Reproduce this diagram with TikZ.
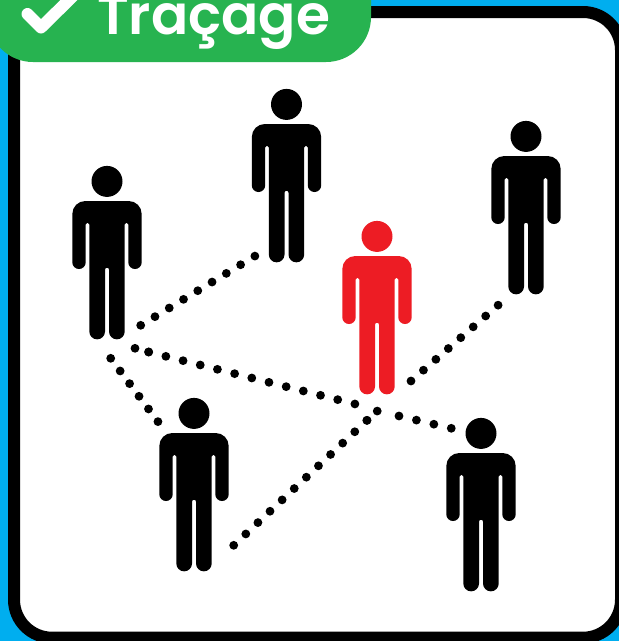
\documentclass[tikz,border=0pt]{standalone}
\usepackage{fontspec}
\setmainfont{Poppins SemiBold}
\usepackage{tikz}
\definecolor{brandblue}{RGB}{0, 174, 239}
\definecolor{brandgreen}{RGB}{39, 179, 80}
\definecolor{brandred}{RGB}{237, 28, 36}

\begin{document}
\begin{tikzpicture}[
        x=1pt, y=-1pt,
        link/.style={line width=8.8pt, line cap=round, dash pattern=on 0pt off #1},
        badgetext/.style={font=\fontsize{55}{55}\selectfont, text=white, anchor=base west, inner sep=0pt},
        person/.pic={
            \fill[pic actions] (0,0.4) circle (15.5);
            \fill[pic actions] (-34.7,33) arc (180:270:13) -- (21.7,20) arc (270:360:13)
                -- (34.7,81.3) arc (0:180:6.7) -- (21.3,43.5) arc (0:-180:1.8)
                -- (17.7,150.5) arc (0:180:7.85) -- (2,88.7) arc (0:-180:2)
                -- (-2,150.5) arc (0:180:7.85) -- (-17.7,43.5) arc (0:-180:1.8)
                -- (-21.3,81.3) arc (0:180:6.7) -- cycle;
        }
    ]
        \useasboundingbox (0,0) rectangle (619,641);
        \fill[brandblue] (0,0) rectangle (619,641);
        \draw[black, fill=white, line width=12pt, rounded corners=38pt] (14,12) rectangle (621,637.7);

        % people
        \pic[black] (top) at (286.5,104) {person};
        \pic[black] (right) at (526,136) {person};
        \pic[black] (left) at (107,181) {person};
        \pic[black] (bottomleft) at (194,413) {person};
        \pic[black] (bottomright) at (481,433) {person};
        \pic[brandred] (sick) at (377,236) {person};

        \coordinate (a1) at (140.7,325.3);
        \coordinate (a2) at (255,256);
        \coordinate (b1) at (135,348.3);
        \coordinate (b2) at (148.7,352);
        \coordinate (b3) at (355,404);
        \coordinate (b4) at (399,416);
        \coordinate (b5) at (451.3,428.3);
        \coordinate (c1) at (110.7,358.3);
        \coordinate (c2) at (158,421.7);
        \coordinate (d1) at (233.7,545.3);
        \coordinate (d2) at (367,420.3);
        \coordinate (d3) at (377.3,411);
        \coordinate (d4) at (411,381);
        \coordinate (d5) at (498.3,305);

        \draw[link=16.69pt] (a1) -- (a2);
        \draw[link=14.1pt] (b1) -- (b2);
        \draw[link=17.72pt] (b2) -- (b3);
        \draw[link=17.9pt] (b4) -- (b5);
        \draw[link=15.8pt] (c1) -- (c2);
        \draw[link=16.6pt] (d1) -- (d2);
        \draw[link=13.8pt] (d2) -- (d3);
        \draw[link=16.5pt] (d4) -- (d5);

        % badge
        \fill[brandgreen, rounded corners=45pt] (-12,-80) rectangle (371,62);
        \draw[white, line width=12pt, line cap=round, line join=round] (27.5,14) -- (41,27.5) -- (75,-6);
        \node[badgetext] (title) at (97,34) {Traçage};
    \end{tikzpicture}
\end{document}
